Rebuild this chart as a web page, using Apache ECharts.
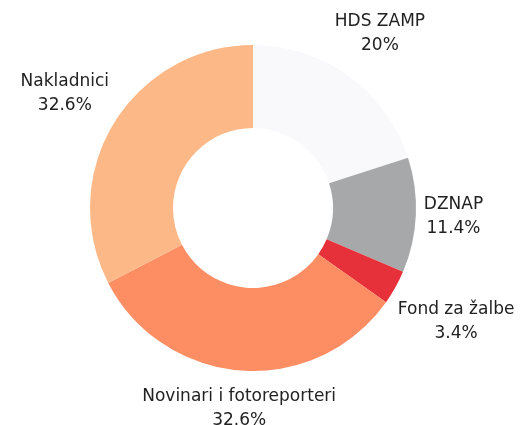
<!DOCTYPE html>
<html>
<head>
<meta charset="utf-8">
<script src="https://cdn.jsdelivr.net/npm/echarts@6/dist/echarts.min.js"></script>
<style>
    html, body { margin: 0; padding: 0; background: #fff; }
    #chart { width: 526px; height: 425px; }
</style>
</head>
<body>
<div id="chart"></div>
<script>
// 数据
var categories = ['HDS ZAMP', 'DZNAP', 'Fond za žalbe', 'Novinari i fotoreporteri', 'Nakladnici'];
var values = [20, 11.4, 3.4, 32.6, 32.6];
var colors = ['#f9f9fc', '#a6a8a9', '#e6303a', '#fd8d63', '#fdb887'];

var centerX = 253, centerY = 208;
var rOuter = 163, rInner = 80;
var startAngle = 90;

// 每块扇区的中间角度（顺时针）
var total = values.reduce(function (a, b) { return a + b; }, 0);
var midAngles = [];
var acc = 0;
for (var i = 0; i < values.length; i++) {
    var mid = startAngle - (acc + values[i] / 2) / total * 360;
    midAngles.push(mid * Math.PI / 180);
    acc += values[i];
}

var pieData = categories.map(function (name, i) {
    return {name: name, value: values[i], itemStyle: {color: colors[i]}};
});

var myChart = echarts.init(document.getElementById('chart'));
var option = {
    backgroundColor: '#ffffff',
    animation: false,
    series: [{
        type: 'pie',
        center: [centerX, centerY],
        radius: [rInner, rOuter],
        startAngle: startAngle,
        clockwise: true,
        avoidLabelOverlap: false,
        data: pieData,
        itemStyle: {borderWidth: 0},
        label: {
            show: true,
            position: 'inside',
            formatter: function (p) {
                return p.name + '\n' + p.value + '%';
            },
            fontFamily: 'DejaVu Sans',
            fontSize: 17,
            lineHeight: 24,
            color: '#222222',
            textBorderWidth: 0,
            align: 'center'
        },
        labelLine: {show: false},
        labelLayout: function (params) {
            // 标签放到扇区外侧
            var a = midAngles[params.dataIndex];
            var w = params.labelRect.width, h = params.labelRect.height;
            var c = Math.cos(a), s = Math.sin(a);
            var r = rOuter + 7 + Math.abs(c) * w / 2 + Math.abs(s) * h / 2;
            return {
                x: centerX + r * c,
                y: centerY - r * s,
                align: 'center',
                verticalAlign: 'middle'
            };
        }
    }]
};
myChart.setOption(option);
</script>
</body>
</html>
